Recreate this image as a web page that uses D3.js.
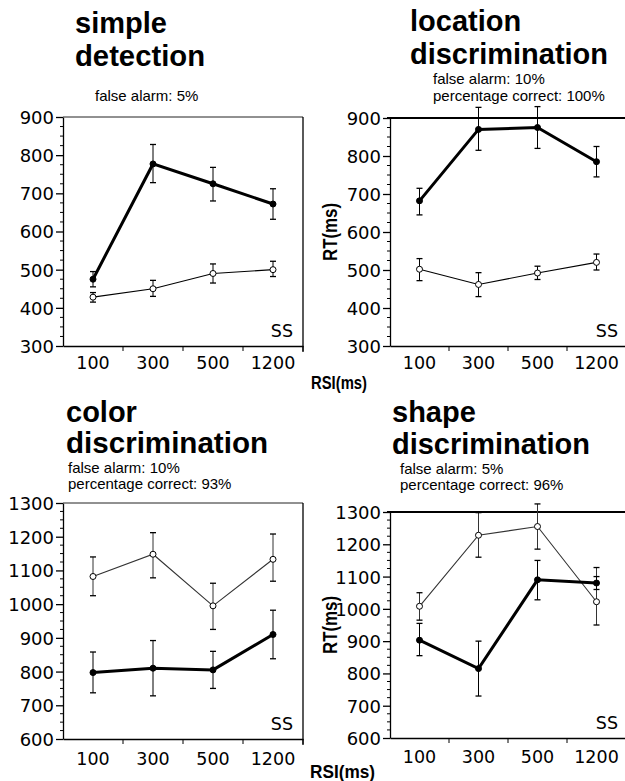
<!DOCTYPE html>
<html><head><meta charset="utf-8">
<script src="https://cdn.jsdelivr.net/npm/d3@7"></script>
<style>
html,body{margin:0;padding:0;background:#fff;}
svg{display:block;}
.tick text{font-family:"DejaVu Sans",sans-serif;}
</style></head>
<body>
<svg id="chart" width="625" height="781"></svg>
<script>
// ---------- data ----------
const categories = ["100", "300", "500", "1200"];

const simpleThick   = [475, 777, 725, 672];
const simpleThickLo = [455, 728, 680, 632];
const simpleThickHi = [495, 828, 768, 712];
const simpleThin    = [428, 450, 490, 500];
const simpleThinLo  = [415, 430, 465, 482];
const simpleThinHi  = [440, 472, 515, 522];

const locThick   = [682, 870, 875, 785];
const locThickLo = [645, 815, 820, 745];
const locThickHi = [715, 928, 930, 825];
const locThin    = [502, 462, 492, 520];
const locThinLo  = [472, 430, 475, 500];
const locThinHi  = [530, 493, 510, 542];

const colorThin    = [1082, 1148, 995, 1133];
const colorThinLo  = [1025, 1078, 925, 1068];
const colorThinHi  = [1140, 1212, 1062, 1208];
const colorThick   = [797, 810, 805, 910];
const colorThickLo = [737, 728, 750, 838];
const colorThickHi = [858, 892, 860, 982];

const shapeThin    = [1008, 1228, 1255, 1022];
const shapeThinLo  = [965, 1160, 1185, 950];
const shapeThinHi  = [1050, 1298, 1325, 1128];
const shapeThick   = [903, 815, 1090, 1080];
const shapeThickLo = [855, 730, 1028, 1060];
const shapeThickHi = [955, 900, 1150, 1100];

const yTicksLow  = [300, 400, 500, 600, 700, 800, 900];
const yTicksHigh = [600, 700, 800, 900, 1000, 1100, 1200, 1300];

// ---------- layout ----------
const panels = [
  {left:63, right:303, top:117, bottom:346, domain:[300,900], ticks:yTicksLow,
   title:["simple","detection"], tx:75, tb:[33,66], tw:[null,130],
   subs:["false alarm: 5%"], sx:95, sb:[101],
   thick:[simpleThick,simpleThickLo,simpleThickHi], thin:[simpleThin,simpleThinLo,simpleThinHi],
   thinColor:"#000", frameRight:true, labelBase:369},
  {left:390, right:626, top:118, bottom:346, domain:[300,900], ticks:yTicksLow,
   title:["location","discrimination"], tx:410, tb:[31,64], tw:[null,198],
   subs:["false alarm: 10%","percentage correct: 100%"], sx:433, sb:[84,101],
   thick:[locThick,locThickLo,locThickHi], thin:[locThin,locThinLo,locThinHi],
   thinColor:"#000", frameRight:false, labelBase:369},
  {left:63, right:303, top:503, bottom:739, domain:[600,1300], ticks:yTicksHigh,
   title:["color","discrimination"], tx:66, tb:[422,453], tw:[null,202],
   subs:["false alarm: 10%","percentage correct: 93%"], sx:68, sb:[473,489],
   thick:[colorThick,colorThickLo,colorThickHi], thin:[colorThin,colorThinLo,colorThinHi],
   thinColor:"#333", frameRight:true, labelBase:765},
  {left:390, right:626, top:512, bottom:738, domain:[600,1300], ticks:yTicksHigh,
   title:["shape","discrimination"], tx:392, tb:[422,454], tw:[null,198],
   subs:["false alarm: 5%","percentage correct: 96%"], sx:400, sb:[474,490],
   thick:[shapeThick,shapeThickLo,shapeThickHi], thin:[shapeThin,shapeThinLo,shapeThinHi],
   thinColor:"#333", frameRight:false, labelBase:763}
];

const svg = d3.select("#chart");

panels.forEach((p, pi) => {
  const x = d3.scaleBand().domain(categories).range([p.left, p.right]).padding(0);
  const y = d3.scaleLinear().domain(p.domain).range([p.bottom, p.top]);
  const g = svg.append("g");

  // titles
  p.title.forEach((t, i) => {
    const tt = g.append("text").attr("x", p.tx).attr("y", p.tb[i])
      .attr("font-family", "'Liberation Sans', Arial, sans-serif")
      .attr("font-weight", "bold").attr("font-size", 29).attr("fill", "#000").text(t);
    if (p.tw[i]) tt.attr("textLength", p.tw[i]).attr("lengthAdjust", "spacingAndGlyphs");
  });
  p.subs.forEach((t, i) => {
    g.append("text").attr("x", p.sx).attr("y", p.sb[i])
      .attr("font-family", "'Liberation Sans', Arial, sans-serif")
      .attr("font-size", 15).attr("fill", "#000").text(t);
  });

  // minor ticks
  const minor = d3.range(p.domain[0], p.domain[1] + 1, 25).filter(v => v % 100 !== 0);
  g.append("g").selectAll("line").data(minor).join("line")
    .attr("x1", p.left - 3).attr("x2", p.left).attr("y1", d => y(d)).attr("y2", d => y(d))
    .attr("stroke", "#000").attr("stroke-width", 1);

  // y axis
  const ya = g.append("g").attr("transform", `translate(${p.left},0)`)
    .call(d3.axisLeft(y).tickValues(p.ticks).tickFormat(d3.format("d"))
      .tickSize(7).tickSizeOuter(0).tickPadding(2));
  ya.selectAll("path,line").attr("stroke", "#000").attr("stroke-width", 1.3);
  ya.selectAll("text").attr("font-size", 18).attr("fill", "#000").attr("dy", "0.36em");

  // x axis
  const xa = g.append("g").attr("transform", `translate(0,${p.bottom})`)
    .call(d3.axisBottom(x).tickSize(0).tickSizeOuter(0).tickPadding(p.labelBase - p.bottom - 12.5));
  xa.select(".domain").attr("stroke", "#000").attr("stroke-width", 1.3);
  xa.selectAll("text").attr("font-size", 17.5).attr("fill", "#000");
  // boundary ticks
  const bounds = categories.slice(1).map(c => x(c)).concat([p.right]);
  g.append("g").selectAll("line").data(bounds).join("line")
    .attr("x1", d => d).attr("x2", d => d).attr("y1", p.bottom).attr("y2", p.bottom + 5)
    .attr("stroke", "#000").attr("stroke-width", 1);

  // frame
  if (p.frameRight) {
    g.append("line").attr("x1", p.left).attr("x2", p.right).attr("y1", p.top).attr("y2", p.top)
      .attr("stroke", "#222").attr("stroke-width", 1);
    g.append("line").attr("x1", p.right).attr("x2", p.right).attr("y1", p.top).attr("y2", p.bottom + 6)
      .attr("stroke", "#000").attr("stroke-width", 1.3);
  } else {
    g.append("line").attr("x1", p.left - 3).attr("x2", 625).attr("y1", p.top).attr("y2", p.top)
      .attr("stroke", "#000").attr("stroke-width", 2);
  }

  const cx = c => x(c) + x.bandwidth() / 2;

  function drawSeries(s, thick, color) {
    const [vals, lo, hi] = s;
    const pts = categories.map((c, i) => ({c, v: vals[i], lo: lo[i], hi: hi[i]}));
    const sg = g.append("g");
    sg.selectAll("line.eb").data(pts).join("line").attr("class", "eb")
      .attr("x1", d => cx(d.c)).attr("x2", d => cx(d.c))
      .attr("y1", d => y(d.lo)).attr("y2", d => y(d.hi))
      .attr("stroke", color).attr("stroke-width", 1);
    ["lo", "hi"].forEach(k => {
      sg.selectAll("line.cap" + k).data(pts).join("line").attr("class", "cap" + k)
        .attr("x1", d => cx(d.c) - 3).attr("x2", d => cx(d.c) + 3)
        .attr("y1", d => y(d[k])).attr("y2", d => y(d[k]))
        .attr("stroke", "#000").attr("stroke-width", 1.3);
    });
    sg.append("path").datum(pts)
      .attr("d", d3.line().x(d => cx(d.c)).y(d => y(d.v)))
      .attr("fill", "none").attr("stroke", color)
      .attr("stroke-width", thick ? 3 : 1.1);
    sg.selectAll("circle").data(pts).join("circle")
      .attr("cx", d => cx(d.c)).attr("cy", d => y(d.v))
      .attr("r", 3)
      .attr("fill", thick ? "#000" : "#fff").attr("stroke", "#000").attr("stroke-width", 1);
  }
  drawSeries(p.thin, false, p.thinColor);
  drawSeries(p.thick, true, "#000");

  // SS label
  g.append("text").attr("x", p.right - (p.frameRight ? 10 : 8)).attr("y", p.bottom - 9)
    .attr("text-anchor", "end").attr("font-family", "'DejaVu Sans', sans-serif")
    .attr("font-size", 17.5).attr("fill", "#000").text("SS");

  // RT label for right panels
  if (!p.frameRight) {
    const yc = (p.top + p.bottom) / 2;
    g.append("text").attr("transform", `translate(${p.left - 53},${yc}) rotate(-90)`)
      .attr("text-anchor", "middle").attr("font-family", "'Liberation Sans', Arial, sans-serif")
      .attr("font-weight", "bold").attr("font-size", 21)
      .attr("textLength", 58).attr("lengthAdjust", "spacingAndGlyphs").text("RT(ms)");
  }
});

// RSI labels
svg.append("text").attr("x", 311).attr("y", 389)
  .attr("font-family", "'Liberation Sans', Arial, sans-serif").attr("font-weight", "bold")
  .attr("font-size", 18).attr("textLength", 56).attr("lengthAdjust", "spacingAndGlyphs").text("RSI(ms)");
svg.append("text").attr("x", 310).attr("y", 778)
  .attr("font-family", "'Liberation Sans', Arial, sans-serif").attr("font-weight", "bold")
  .attr("font-size", 19).attr("textLength", 65).attr("lengthAdjust", "spacingAndGlyphs").text("RSI(ms)");
</script>
</body></html>
